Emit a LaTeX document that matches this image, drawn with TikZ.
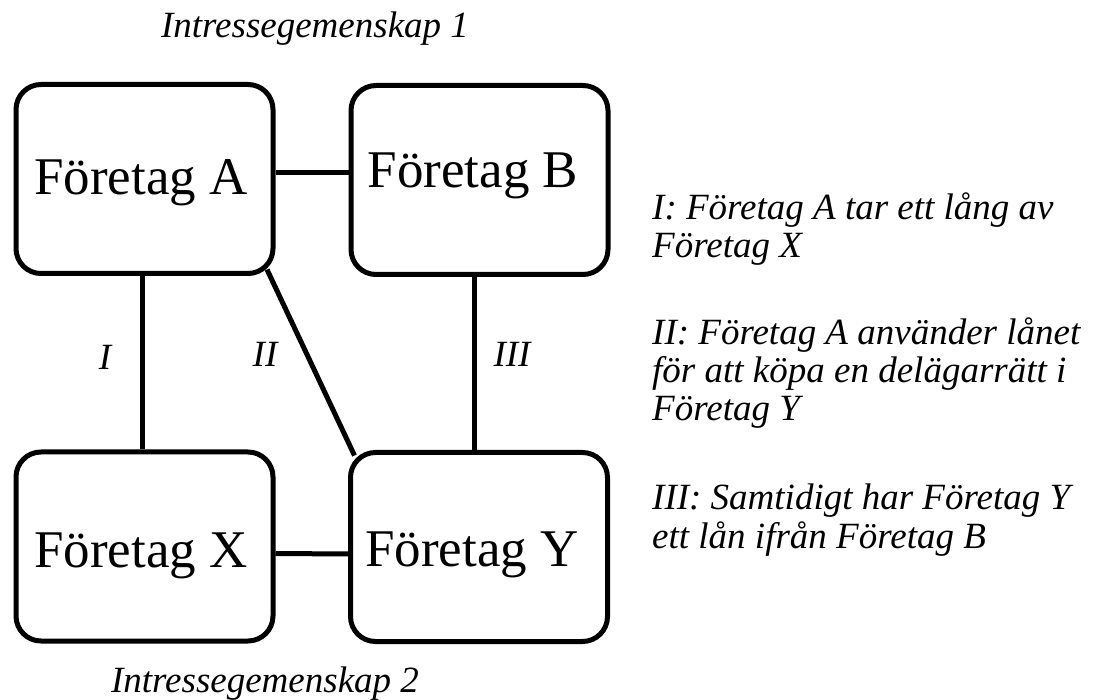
\documentclass[tikz,border=0pt]{standalone}
\usepackage{fontspec}
\setmainfont{Liberation Serif}
\usetikzlibrary{calc}
\begin{document}
\begin{tikzpicture}[x=1pt,y=-1pt,
  firm/.style={draw, line width=5pt, rounded corners=25pt,
    minimum width=257pt, minimum height=189pt, inner sep=0pt},
  firmname/.style={font=\fontsize{53}{60}\selectfont, inner sep=0pt, anchor=base},
  link/.style={line width=5pt},
  tag/.style={font=\itshape\fontsize{37}{39}\selectfont, inner sep=0pt, anchor=base},
  note/.style={font=\itshape\fontsize{37}{39}\selectfont, inner sep=0pt, anchor=base west}]
\useasboundingbox (0,0) rectangle (1096,700);
\fill[white] (0,0) rectangle (1096,700);

% companies
\node[firm] (A) at (144.5,179) {};
\node[firm] (B) at (479.5,180) {};
\node[firm] (X) at (144.5,546.5) {};
\node[firm] (Y) at (479,547) {};
\node[firmname] (tA) at (141,195) {Företag A};
\node[firmname] (tB) at (473,188) {Företag B};
\node[firmname] (tX) at (141,568) {Företag X};
\node[firmname] (tY) at (472,566) {Företag Y};

% links between companies
\draw[link] ($(A.east)+(0,-6)$) -- ($(B.west)+(0,-7)$);
\coordinate (a3) at ($(A.south)+(-2.5,0)$);
\draw[link] (a3) -- (a3 |- X.north);
\coordinate (b3) at ($(B.south)+(-5,0)$);
\draw[link] (b3) -- (b3 |- Y.north);
\draw[link] ($(A.south east)+(-8.5,-6.5)$) -- ($(Y.north west)+(6.5,5.5)$);
\draw[link] ($(X.east)+(0,7)$) -- ($(Y.west)+(0,7)$);

% link numbers
\node[tag] (l1) at (105,370) {I};
\node[tag] (l2) at (265,367) {II};
\node[tag] (l3) at (512,367) {III};

% group titles
\node[tag] (g1) at (315,38) {Intressegemenskap 1};
\node[tag] (g2) at (265,692) {Intressegemenskap 2};

% explanations
\node[note] (n1a) at (652,220) {I: Företag A tar ett lång av};
\node[note] (n1b) at (652,258) {Företag X};
\node[note] (n2a) at (652,345) {II: Företag A använder lånet};
\node[note] (n2b) at (652,383) {för att köpa en delägarrätt i};
\node[note] (n2c) at (652,421) {Företag Y};
\node[note] (n3a) at (652,510) {III: Samtidigt har Företag Y};
\node[note] (n3b) at (652,549) {ett lån ifrån Företag B};
\end{tikzpicture}
\end{document}
